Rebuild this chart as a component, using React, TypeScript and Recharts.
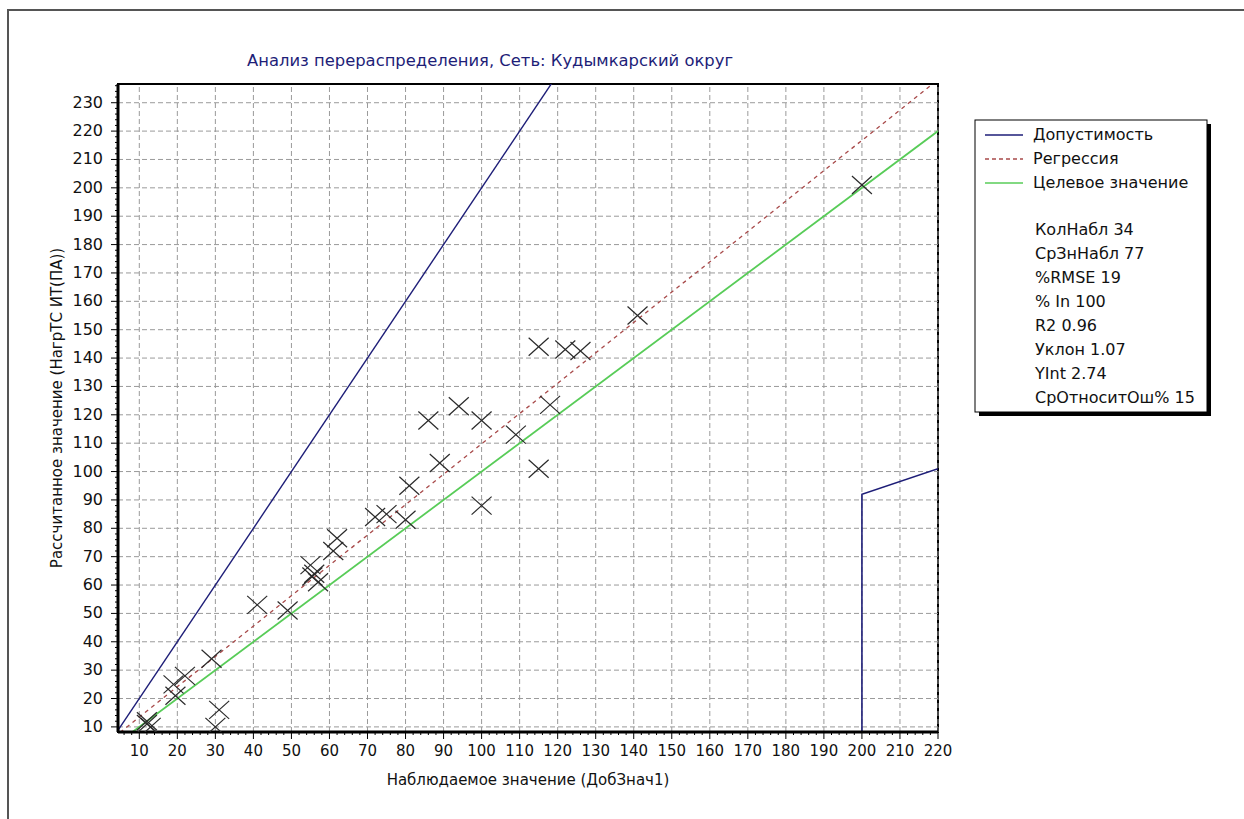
import React from "react"
import { ComposedChart, Line, Scatter, XAxis, YAxis, ReferenceLine, ReferenceArea } from "recharts"

// axis ticks (major, labelled)
const xTicks = [10, 20, 30, 40, 50, 60, 70, 80, 90, 100, 110, 120, 130, 140, 150, 160, 170, 180, 190, 200, 210, 220]
const yTicks = [10, 20, 30, 40, 50, 60, 70, 80, 90, 100, 110, 120, 130, 140, 150, 160, 170, 180, 190, 200, 210, 220, 230]

// observations: observed value (ДобЗнач1) vs calculated (НагрТС ИТ(ПА))
const observed = [12, 13, 12, 19, 19.5, 22, 29, 30, 31, 41, 49, 55, 55.5, 56, 57, 61, 62, 72, 75, 80, 81, 86, 89, 94, 100, 100, 109, 115, 115, 118, 122, 126, 141, 200]
const calculated = [12, 10, 11, 25, 21, 28, 34, 10, 16, 53, 51, 67, 63, 64, 61, 72, 76.5, 84, 85, 83, 95, 118, 103, 123, 118, 88, 113, 144, 101, 123.5, 143, 142.5, 155, 201]

// Допустимость
const toleranceX = [0, 120]
const toleranceY = [0, 240]
const toleranceTailX = [200, 200, 220]
const toleranceTailY = [0, 92, 101]
// Регрессия (Уклон 1.07, YInt 2.74)
const regressionX = [0, 220]
const regressionY = [2.74, 238.14]
// Целевое значение
const targetX = [0, 220]
const targetY = [0, 220]

const legendItems = ["Допустимость", "Регрессия", "Целевое значение"]
const statLines = ["КолНабл 34", "СрЗнНабл 77", "%RMSE 19", "% In 100", "R2 0.96", "Уклон 1.07", "YInt 2.74", "СрОтноситОш% 15"]

const X_DOMAIN: [number, number] = [4.4, 220]
const Y_DOMAIN: [number, number] = [8.2, 236.6]

const zip = (xs: number[], ys: number[]) => xs.map((x, i) => ({ x, y: ys[i] }))

const minorY: number[] = []
for (let v = 10; v <= 236; v += 2) minorY.push(v)
const minorX: number[] = []
for (let v = 6; v <= 220; v += 2) minorX.push(v)

const FONT = "'DejaVu Sans', Arial, sans-serif"
const NAVY = "#1e1e78"
const GREEN = "#58cc58"
const RED = "#a84a4a"
const GRID = "#9a9a9a"

const YTick = (props: any) => {
  const { x, y, payload } = props
  const v = payload.value
  const major = v % 10 === 0
  return (
    <g>
      <line x1={x - (major ? 7 : 3)} y1={y} x2={x} y2={y} stroke="#000" strokeWidth={1} />
      {major && (
        <text x={x - 15} y={y} dy={5} textAnchor="end" fontSize={16} fontFamily={FONT} fill="#111">
          {v}
        </text>
      )}
    </g>
  )
}

const XTick = (props: any) => {
  const { x, y, payload } = props
  const v = payload.value
  const major = v % 10 === 0
  return (
    <g>
      <line x1={x} y1={y} x2={x} y2={y + (major ? 7 : 3)} stroke="#000" strokeWidth={1} />
      {major && (
        <text x={x} y={y + 24} textAnchor="middle" fontSize={15} fontFamily={FONT} fill="#111">
          {v}
        </text>
      )}
    </g>
  )
}

const XMark = (props: any) => {
  const { cx, cy } = props
  if (cx == null || cy == null) return <g />
  return (
    <g stroke="#2a2a2a" strokeWidth={1.2}>
      <line x1={cx - 10} y1={cy - 9} x2={cx + 10} y2={cy + 9} />
      <line x1={cx - 10} y1={cy + 9} x2={cx + 10} y2={cy - 9} />
    </g>
  )
}

export default function App() {
  const points = zip(observed, calculated)

  return (
    <div style={{ position: "absolute", left: 0, top: 0, width: 1244, height: 819, background: "#fff", overflow: "hidden" }}>
      <ComposedChart
        width={1244}
        height={819}
        margin={{ top: 84, right: 306, bottom: 0, left: 0 }}
      >
        <XAxis
          type="number"
          dataKey="x"
          domain={X_DOMAIN}
          allowDataOverflow
          ticks={minorX}
          interval={0}
          height={87}
          tickSize={0}
          tickMargin={0}
          tickLine={false}
          axisLine={{ stroke: "#000", strokeWidth: 3 }}
          tick={<XTick />}
        />
        <YAxis
          type="number"
          dataKey="y"
          domain={Y_DOMAIN}
          allowDataOverflow
          ticks={minorY}
          interval={0}
          width={118}
          tickSize={0}
          tickMargin={0}
          tickLine={false}
          axisLine={{ stroke: "#000", strokeWidth: 3 }}
          tick={<YTick />}
        />

        {xTicks.map((v) => (
          <ReferenceLine key={"gx" + v} x={v} stroke={GRID} strokeDasharray="5 3" strokeWidth={1} />
        ))}
        {yTicks.map((v) => (
          <ReferenceLine key={"gy" + v} y={v} stroke={GRID} strokeDasharray="5 3" strokeWidth={1} />
        ))}

        <Line data={zip(targetX, targetY)} dataKey="y" stroke={GREEN} strokeWidth={1.8} dot={false} isAnimationActive={false} />
        <Line data={zip(regressionX, regressionY)} dataKey="y" stroke={RED} strokeWidth={1.3} strokeDasharray="4 4" dot={false} isAnimationActive={false} />
        <Line data={zip(toleranceX, toleranceY)} dataKey="y" stroke={NAVY} strokeWidth={1.4} dot={false} isAnimationActive={false} />
        <Line data={zip(toleranceTailX, toleranceTailY)} dataKey="y" stroke={NAVY} strokeWidth={1.6} dot={false} isAnimationActive={false} />
        <Scatter data={points} dataKey="y" shape={<XMark />} isAnimationActive={false} />

        <ReferenceArea x1={X_DOMAIN[0]} x2={X_DOMAIN[1]} y1={Y_DOMAIN[0]} y2={Y_DOMAIN[1]} fill="none" stroke="#000" strokeWidth={2} ifOverflow="visible" />
      </ComposedChart>

      <svg width={1244} height={819} style={{ position: "absolute", left: 0, top: 0, pointerEvents: "none" }}>
        <rect x={8} y={10} width={1250} height={830} fill="none" stroke="#555" strokeWidth={2} />
        <text x={490} y={66} textAnchor="middle" fontSize={15} fontFamily={FONT} fill={NAVY} textLength={486} lengthAdjust="spacingAndGlyphs">
          Анализ перераспределения, Сеть: Кудымкарский округ
        </text>
        <text
          transform="translate(62, 408) rotate(-90)"
          textAnchor="middle"
          fontSize={15}
          fontFamily={FONT}
          fill="#111"
        >
          Рассчитанное значение (НагрТС ИТ(ПА))
        </text>
        <text x={528} y={785} textAnchor="middle" fontSize={15} fontFamily={FONT} fill="#111">
          Наблюдаемое значение (ДобЗнач1)
        </text>

        <rect x={979} y={124} width={232} height={292} fill="#000" />
        <rect x={975} y={120} width={232} height={292} fill="#fff" stroke="#000" strokeWidth={1} />
        {legendItems.map((label, i) => (
          <g key={label}>
            <line
              x1={985}
              x2={1023}
              y1={135 + i * 24}
              y2={135 + i * 24}
              stroke={[NAVY, RED, GREEN][i]}
              strokeWidth={1.5}
              strokeDasharray={i === 1 ? "4 3" : undefined}
            />
            <text x={1033} y={135 + i * 24} dy={5} fontSize={16} fontFamily={FONT} fill="#111">
              {label}
            </text>
          </g>
        ))}
        {statLines.map((s, i) => (
          <text key={s} x={1035} y={230 + i * 24} dy={5} fontSize={16} fontFamily={FONT} fill="#111">
            {s}
          </text>
        ))}
      </svg>
    </div>
  )
}
